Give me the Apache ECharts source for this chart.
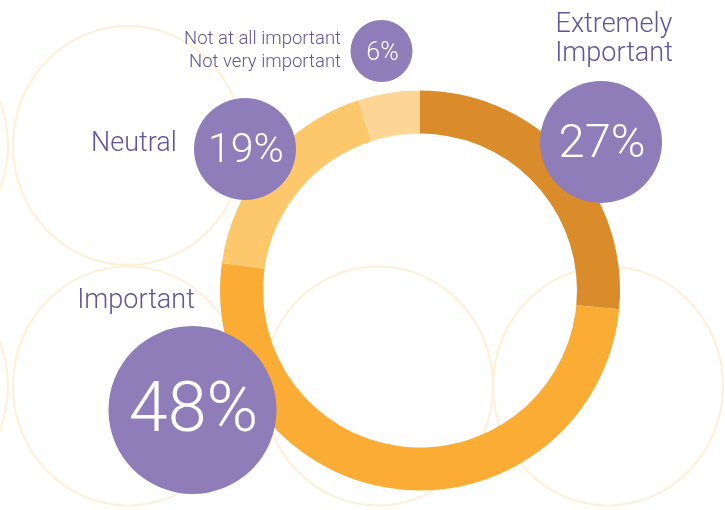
<!DOCTYPE html>
<html>
<head>
<meta charset="utf-8">
<script src="https://cdn.jsdelivr.net/npm/echarts@6/dist/echarts.min.js"></script>
<style>
html,body{margin:0;padding:0;background:#fff;}
#chart{width:725px;height:510px;}
</style>
</head>
<body>
<div id="chart"></div>
<script>
// ---- data ----
var categories = ['Extremely Important', 'Important', 'Neutral', 'Not at all important / Not very important'];
var arcShares = [26.5, 50.7, 17.8, 5.0];          // arc sizes measured on the ring
var labelPercents = [27, 48, 19, 6];               // numbers printed in the bubbles
var categoryLabels = [
  ['Extremely', 'Important'],
  ['Important'],
  ['Neutral'],
  ['Not at all important', 'Not very important']
];

// ---- styling ----
var sliceColors = ['#DB8C2A', '#FBAC34', '#FDC76B', '#FDD696'];
var bubbleColor = '#8F7DBA';
var textColor = '#5F5599';
var ringColor = '#FDF0D7';
var FONT = 'Roboto, "Noto Sans", sans-serif';

var chart = echarts.init(document.getElementById('chart'), null, {renderer: 'canvas'});

// decorative background outlines
var bgCircles = [
  [-107, 145.5], [128, 145.5],
  [-107, 386], [128, 386], [378, 386], [608, 386]
];
var graphics = bgCircles.map(function (c) {
  return {
    type: 'ellipse', z: 0, silent: true,
    shape: {cx: c[0], cy: c[1], rx: 115, ry: 119.5},
    style: {fill: 'none', stroke: ringColor, lineWidth: 2}
  };
});

// bubbles: [cx, cy, r, fontSize]
var bubbles = [
  [601, 142, 61, 47],
  [192.5, 410, 84, 70],
  [245, 149, 51, 41],
  [381.5, 51, 31, 25]
];
bubbles.forEach(function (b, i) {
  graphics.push({
    type: 'circle', z: 10, silent: true,
    shape: {cx: b[0], cy: b[1], r: b[2]},
    style: {fill: bubbleColor}
  });
  graphics.push({
    type: 'text', z: 11, silent: true,
    x: b[0] + 1, y: b[1] + 3,
    style: {
      text: labelPercents[i] + '%',
      font: '300 ' + b[3] + 'px ' + FONT,
      fill: '#ffffff', align: 'center', verticalAlign: 'middle'
    }
  });
});

// category labels: [x, firstLineCenterY, lineGap, fontSize, align]
var labelPos = [
  [614, 25.5, 29, 27, 'center'],
  [136, 301.5, 0, 27, 'center'],
  [134, 144, 0, 27, 'center'],
  [341, 39, 23.3, 18.5, 'right']
];
labelPos.forEach(function (p, i) {
  categoryLabels[i].forEach(function (line, k) {
    graphics.push({
      type: 'text', z: 12, silent: true,
      x: p[0], y: p[1] + k * p[2],
      style: {
        text: line,
        font: '300 ' + p[3] + 'px ' + FONT,
        fill: textColor, align: p[4], verticalAlign: 'middle'
      }
    });
  });
});

chart.setOption({
  animation: false,
  backgroundColor: '#ffffff',
  graphic: {elements: graphics},
  series: [{
    type: 'pie',
    z: 5,
    silent: true,
    center: [420, 290.5],
    radius: [157, 200],
    startAngle: 90,
    clockwise: true,
    label: {show: false},
    labelLine: {show: false},
    itemStyle: {borderWidth: 0},
    data: categories.map(function (name, i) {
      return {name: name, value: arcShares[i], itemStyle: {color: sliceColors[i]}};
    })
  }]
});
</script>
</body>
</html>
